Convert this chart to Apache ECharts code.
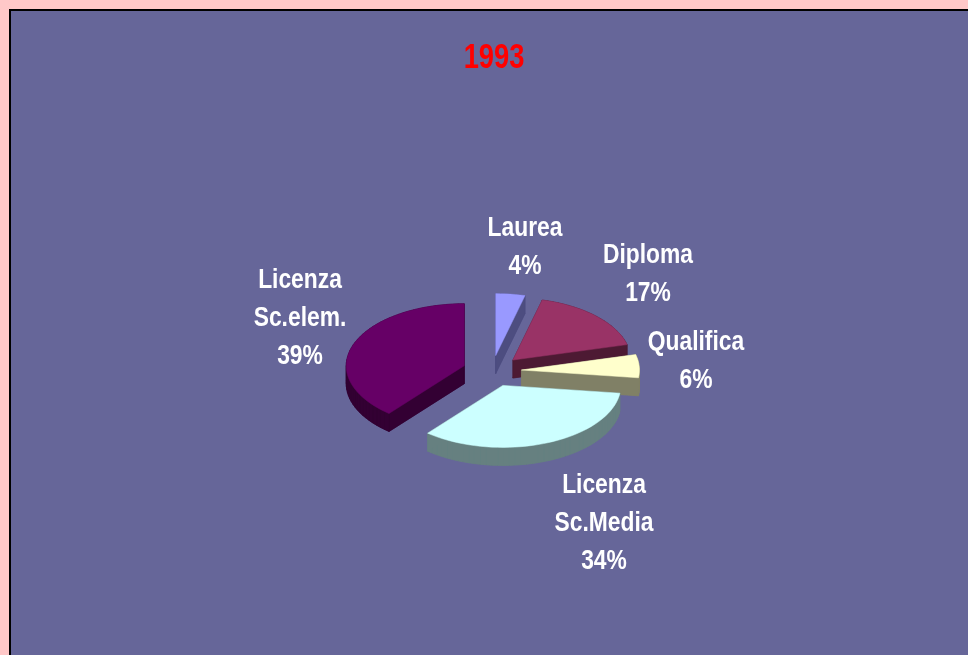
<!DOCTYPE html>
<html>
<head>
<meta charset="utf-8">
<style>
  html, body { margin: 0; padding: 0; background: #ffc8c8; }
  #chart { width: 968px; height: 655px; }
</style>
</head>
<body>
<div id="chart"></div>
<script src="https://cdn.jsdelivr.net/npm/echarts@6/dist/echarts.min.js"></script>
<script>
var chartTitle = '1993'
var categories = ['Laurea', 'Diploma', 'Qualifica', 'Licenza\nSc.Media', 'Licenza\nSc.elem.']
var percents = [4, 17, 6, 34, 39]

var topColors = ['#9999ff', '#993366', '#ffffcc', '#ccffff', '#660066']
var sideColors = ['#4d4d80', '#4d1a33', '#808066', '#668080', '#330033']
// label centres, placed by hand like in the original
var labelX = [525, 648, 696, 604, 300]
var labelY = [247, 274, 361, 523, 318]
// back slices first
var drawOrder = [0, 4, 1, 2, 3]

var centerX = 492
var centerY = 371
var radiusX = 118
var radiusY = 62
var depth = 18
var explode = 0.25

// start angle of every slice, clockwise from 12 o'clock
var startAngles = []
percents.reduce(function (sum, v, i) {
  startAngles[i] = sum / 100 * Math.PI * 2
  return sum + v
}, 0)

function slicePoints(i) {
  var a0 = startAngles[i]
  var a1 = a0 + percents[i] / 100 * Math.PI * 2
  var mid = (a0 + a1) / 2
  var cx = centerX + explode * radiusX * Math.sin(mid)
  var cy = centerY - explode * radiusY * Math.cos(mid)
  var pts = [[cx, cy]]
  var steps = Math.ceil((a1 - a0) / 0.05)
  for (var s = 0; s <= steps; s++) {
    var t = a0 + (a1 - a0) * s / steps
    pts.push([cx + radiusX * Math.sin(t), cy - radiusY * Math.cos(t)])
  }
  return pts
}

function renderSlice(params, api) {
  var i = api.value(0)
  var pts = slicePoints(i)
  var children = []
  var shifted = pts.map(function (p) { return [p[0], p[1] + depth] })
  var sideStyle = { fill: sideColors[i], stroke: sideColors[i], lineWidth: 0.5 }
  children.push({ type: 'polygon', shape: { points: shifted }, style: sideStyle })
  pts.forEach(function (p, k) {
    var n = (k + 1) % pts.length
    children.push({
      type: 'polygon',
      shape: { points: [p, pts[n], shifted[n], shifted[k]] },
      style: sideStyle
    })
  })
  children.push({
    type: 'polygon',
    shape: { points: pts },
    style: { fill: topColors[i], stroke: topColors[i], lineWidth: 0.5 }
  })
  return { type: 'group', children: children }
}

// no narrow font installed, so squeeze the bold one
function renderLabel(params, api) {
  var i = api.value(0)
  return {
    type: 'text',
    x: labelX[i],
    y: labelY[i],
    scaleX: 0.815,
    style: {
      text: categories[i] + '\n' + percents[i] + '%',
      fill: '#ffffff',
      font: 'bold 28px "Liberation Sans", sans-serif',
      lineHeight: 38,
      align: 'center',
      verticalAlign: 'middle'
    }
  }
}

var chart = echarts.init(document.getElementById('chart'))
chart.setOption({
  animation: false,
  backgroundColor: '#ffc8c8',
  graphic: [{
    type: 'rect',
    z: -1,
    shape: { x: 10, y: 10, width: 980, height: 670 },
    style: { fill: '#666699', stroke: '#000000', lineWidth: 2 }
  }, {
    type: 'text',
    z: 5,
    x: 494,
    y: 58,
    scaleX: 0.78,
    style: {
      text: chartTitle,
      fill: '#ff0000',
      font: 'bold 35px "Liberation Sans", sans-serif',
      align: 'center',
      verticalAlign: 'middle'
    }
  }],
  series: [
    {
      type: 'custom',
      coordinateSystem: 'none',
      silent: true,
      renderItem: renderSlice,
      data: drawOrder.map(function (i) { return [i, percents[i]] })
    },
    {
      type: 'custom',
      coordinateSystem: 'none',
      silent: true,
      z: 5,
      renderItem: renderLabel,
      data: drawOrder.map(function (i) { return [i, percents[i]] })
    }
  ]
})
</script>
</body>
</html>
